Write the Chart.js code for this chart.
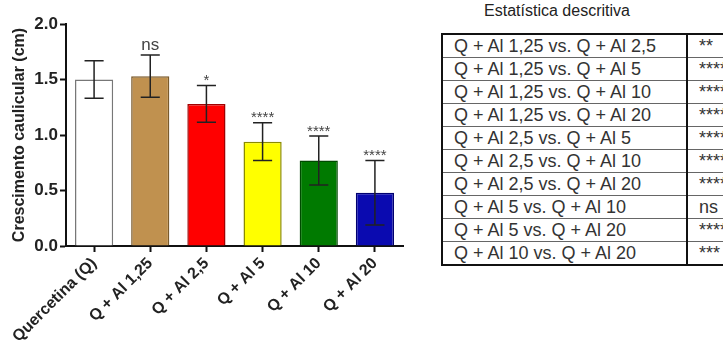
<!DOCTYPE html>
<html>
<head>
<meta charset="utf-8">
<script src="https://cdn.jsdelivr.net/npm/chart.js@4.4.1/dist/chart.umd.min.js"></script>
<style>
  body { margin: 0; width: 723px; height: 342px; overflow: hidden; background: #fff; font-family: "Liberation Sans", Arial, sans-serif; }
  #wrap { position: absolute; left: 0; top: 0; width: 420px; height: 342px; }
  #title { position: absolute; left: 441px; top: 2px; width: 232px; text-align: center; font-size: 16px; color: #222; }
  table { position: absolute; left: 441px; top: 33px; width: 330px; table-layout: fixed; border-collapse: collapse; border: 2px solid #111; font-size: 18px; color: #333; }
  td { border: 1px solid #666; height: 22px; padding: 0 0 0 11px; line-height: 20px; white-space: nowrap; overflow: hidden; }
  td.c1 { width: 232px; border-right: 2px solid #111; }
  td.c2 { width: 76px; }
</style>
</head>
<body>
<div id="wrap"><canvas id="chart" width="420" height="342"></canvas></div>
<div id="title">Estatística descritiva</div>
<table id="tbl"></table>
<script>
const categories = ['Quercetina (Q)', 'Q + Al 1,25', 'Q + Al 2,5', 'Q + Al 5', 'Q + Al 10', 'Q + Al 20'];
const means = [1.50, 1.53, 1.28, 0.94, 0.77, 0.48];
const errors = [0.17, 0.19, 0.165, 0.17, 0.22, 0.29];
const signif = ['', 'ns', '*', '****', '****', '****'];
const barColors = ['#ffffff', '#c0914f', '#ff0000', '#ffff00', '#007a00', '#0a0ab0'];
const borderColors = ['#777777', '#7a5a2a', '#a00000', '#8a8a00', '#004a00', '#000070'];
const yTicks = [0, 0.5, 1.0, 1.5, 2.0];

const comparisons = [
  'Q + Al 1,25 vs. Q + Al 2,5', 'Q + Al 1,25 vs. Q + Al 5', 'Q + Al 1,25 vs. Q + Al 10',
  'Q + Al 1,25 vs. Q + Al 20', 'Q + Al 2,5 vs. Q + Al 5', 'Q + Al 2,5 vs. Q + Al 10',
  'Q + Al 2,5 vs. Q + Al 20', 'Q + Al 5 vs. Q + Al 10', 'Q + Al 5 vs. Q + Al 20',
  'Q + Al 10 vs. Q + Al 20'
];
const compResult = ['**', '****', '****', '****', '****', '****', '****', 'ns', '****', '***'];

// build the table
const tbl = document.getElementById('tbl');
comparisons.forEach((c, i) => {
  const tr = document.createElement('tr');
  tr.innerHTML = `<td class="c1">${c}</td><td class="c2">${compResult[i]}</td>`;
  tbl.appendChild(tr);
});

// error bars + significance marks
const errorBars = {
  id: 'errorBars',
  afterDatasetsDraw(chart) {
    const ctx = chart.ctx;
    const meta = chart.getDatasetMeta(0);
    const y = chart.scales.y;
    ctx.save();
    ctx.strokeStyle = '#222';
    ctx.lineWidth = 1.5;
    meta.data.forEach((bar, i) => {
      const x = bar.x;
      const half = bar.width / 4;
      const top = y.getPixelForValue(means[i] + errors[i]);
      const bot = y.getPixelForValue(means[i] - errors[i]);
      ctx.beginPath();
      ctx.moveTo(x, top); ctx.lineTo(x, bot);
      ctx.moveTo(x - half, top); ctx.lineTo(x + half, top);
      ctx.moveTo(x - half, bot); ctx.lineTo(x + half, bot);
      ctx.stroke();
      if (signif[i]) {
        ctx.fillStyle = '#444';
        ctx.textAlign = 'center';
        ctx.textBaseline = 'bottom';
        ctx.font = signif[i] === 'ns' ? '17px "Liberation Sans", Arial' : '15px "Liberation Sans", Arial';
        ctx.fillText(signif[i], x, signif[i] === 'ns' ? top - 1 : top + 3);
      }
    });
    ctx.restore();
  }
};

new Chart(document.getElementById('chart'), {
  type: 'bar',
  data: {
    labels: categories,
    datasets: [{
      data: means,
      backgroundColor: barColors,
      borderColor: borderColors,
      borderWidth: 1.5,
      barPercentage: 0.68,
      categoryPercentage: 1.0
    }]
  },
  options: {
    responsive: false,
    animation: false,
    layout: { padding: { top: 24, right: 17, left: 0, bottom: 0 } },
    plugins: { legend: { display: false }, tooltip: { enabled: false } },
    scales: {
      x: {
        afterFit(scale) { scale.height = 96; },
        grid: { display: true, offset: false, drawOnChartArea: false, drawTicks: true, tickLength: 6, tickColor: '#111', tickWidth: 2 },
        border: { color: '#111', width: 2 },
        ticks: {
          color: '#222',
          font: { family: '"Liberation Sans", Arial', size: 16, weight: 'bold' },
          minRotation: 45, maxRotation: 45, padding: 2
        }
      },
      y: {
        min: 0, max: 2,
        afterFit(scale) { scale.width = 66; },
        afterBuildTicks(scale) { scale.ticks = yTicks.map(v => ({ value: v })); },
        grid: { display: true, drawOnChartArea: false, drawTicks: true, tickLength: 6, tickColor: '#111', tickWidth: 2 },
        border: { color: '#111', width: 2 },
        title: {
          display: true, text: 'Crescimento caulicular (cm)', color: '#222',
          font: { family: '"Liberation Sans", Arial', size: 16, weight: 'bold' }, padding: { top: 10, bottom: 0 }
        },
        ticks: {
          color: '#222',
          font: { family: '"Liberation Sans", Arial', size: 17, weight: 'bold' },
          padding: 2,
          callback: v => v.toFixed(1)
        }
      }
    }
  },
  plugins: [errorBars]
});
</script>
</body>
</html>
